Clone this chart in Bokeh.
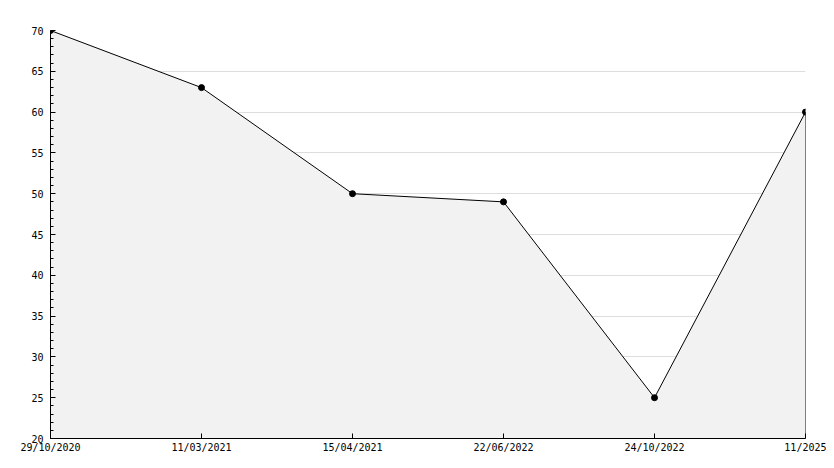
from bokeh.plotting import figure
from bokeh.models import Range1d, FixedTicker, SingleIntervalTicker
from bokeh.embed import file_html
from bokeh.resources import INLINE

labels = ["29/10/2020", "11/03/2021", "15/04/2021", "22/06/2022", "24/10/2022", "11/2025"]
values = [70, 63, 50, 49, 25, 60]
y_min, y_max = 20, 70

xs = list(range(len(labels)))

p = figure(width=826, height=460, output_backend="svg", toolbar_location=None,
           x_range=Range1d(xs[0], xs[-1]), y_range=Range1d(y_min, y_max),
           min_border_left=50, min_border_right=21, min_border_top=30, min_border_bottom=22)
p.outline_line_color = None
p.background_fill_color = "white"

p.varea(x=xs, y1=[y_min] * len(xs), y2=values, fill_color="#f2f2f2")
p.segment(x0=[xs[-1]], y0=[y_min], x1=[xs[-1]], y1=[values[-1]], line_color="black", line_width=1)
p.line(xs, values, line_color="black", line_width=1)
p.scatter(xs, values, marker="circle", size=6, fill_color="black", line_color="black")

p.xgrid.grid_line_color = None
p.ygrid.grid_line_color = "#dddddd"

font = "DejaVu Sans Mono"
xa = p.xaxis[0]
xa.ticker = FixedTicker(ticks=xs)
xa.major_label_overrides = {i: l for i, l in zip(xs, labels)}
xa.major_tick_in = 5
xa.major_tick_out = 0
xa.minor_tick_line_color = None
xa.major_label_standoff = 3
xa.major_label_text_font = font
xa.major_label_text_font_size = "10px"
xa.major_label_text_color = "black"
xa.axis_line_color = "black"

ya = p.yaxis[0]
ya.ticker = SingleIntervalTicker(interval=5, num_minor_ticks=5)
ya.major_tick_in = 5
ya.major_tick_out = 0
ya.minor_tick_in = 3
ya.minor_tick_out = 0
ya.major_label_standoff = 7
ya.major_label_text_font = font
ya.major_label_text_font_size = "10px"
ya.major_label_text_color = "black"
ya.axis_line_color = "black"

open("out.html", "w").write(file_html(p, INLINE))
